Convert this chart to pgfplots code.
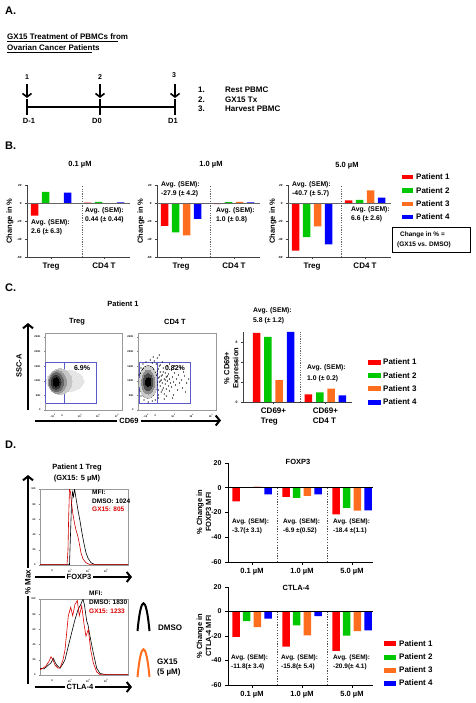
\documentclass[border=0pt]{standalone}
\usepackage{pgfplots}
\pgfplotsset{compat=1.18}
\usepackage{fontspec}
\setmainfont{Liberation Sans}
\usetikzlibrary{arrows.meta}
\definecolor{pr}{RGB}{255,0,0}
\definecolor{pg}{RGB}{0,200,0}
\definecolor{po}{RGB}{255,110,30}
\definecolor{pb}{RGB}{0,0,255}
\definecolor{gate}{RGB}{90,90,200}
\newcommand{\fs}[1]{\fontsize{#1}{#1}\selectfont\bfseries}
\pgfplotsset{
 barbase/.style={scale only axis, anchor=south west, axis x line*=bottom, axis y line*=left, clip=false,
   tick align=outside, major tick length=2pt, /pgf/number format/assume math mode=true},
 bb/.style={ybar, bar width=7.5pt, draw=none},
 bstyle/.style={barbase, width=103pt, height=72pt, xmin=-0.453, xmax=1.49, ymin=-60, ymax=20,
   ytick={-60,-40,-20,0,20}, xtick={0,1}, xticklabels={Treg,CD4 T},
   yticklabel style={font=\fs{3}}, xticklabel style={font=\fs{8}},
   axis line style={black!75, line width=0.5pt}, tick style={black!75, line width=0.4pt}},
 dstyle/.style={barbase, width=145pt, xmin=-0.48, xmax=2.42, ymin=-60, ymax=20,
   ytick={-60,-40,-20,0,20}, xtick={0,1,2}, xticklabels={0.1 µM,1.0 µM,5.0 µM},
   yticklabel style={font=\fs{7}}, xticklabel style={font=\fs{7.5}},
   axis line style={black, line width=0.8pt}, tick style={black, line width=0.8pt}, major tick length=3pt},
 flow/.style={scale only axis, anchor=south west, width=77pt, height=77pt, xmin=0, xmax=77, ymin=0, ymax=77,
   axis line style={black!40, line width=0.4pt}, tick style={black!50, line width=0.3pt},
   major tick length=1pt, tick align=outside, tick pos=left,
   ytick={0,14.6,29.2,43.8,58.4,73}, yticklabels={0,50K,100K,150K,200K,250K},
   xtick={8,17,35,53,72}, xticklabels={-10\textsuperscript{3},0,10\textsuperscript{3},10\textsuperscript{4},10\textsuperscript{5}},
   ticklabel style={font=\fs{2.5}}},
 blob/.style n args={4}{only marks, mark=*, mark size=10pt,
   mark options={draw=#1, fill=#1, xscale=#2, yscale=#3, line width=0pt}},
 hist/.style={scale only axis, anchor=south west, width=88pt, height=76pt, xmin=0, xmax=88, ymin=0, ymax=100,
   axis line style={black!40, line width=0.4pt}, tick style={black!50, line width=0.3pt},
   major tick length=1pt, tick align=outside, tick pos=left,
   ytick={0,20,40,60,80,100}, xtick={12,30,48,66,84},
   xticklabels={0,10\textsuperscript{3},10\textsuperscript{4},10\textsuperscript{5},},
   ticklabel style={font=\fs{2.5}}, /pgf/number format/assume math mode=true},
}
\begin{document}
\begin{tikzpicture}
\useasboundingbox (0pt,0pt) rectangle (475pt,-703pt);

% ---------------- Panel B ----------------
\begin{axis}[bstyle, at={(27pt,-257pt)}]
 \addplot[bb, bar shift=-16.5pt, fill=pr] coordinates {(0,-14) (1,0.3)};
 \addplot[bb, bar shift=-5.5pt, fill=pg] coordinates {(0,12.5) (1,1.2)};
 \addplot[bb, bar shift=5.5pt, fill=po] coordinates {(0,-0.8) (1,-0.6)};
 \addplot[bb, bar shift=16.5pt, fill=pb] coordinates {(0,11.5) (1,0.8)};
 \draw[black!60, line width=.5pt] (axis cs:-0.453,0) -- (axis cs:1.49,0);
 \draw[black!60, line width=.5pt, dash pattern=on 1.2pt off 1.2pt] (axis cs:0.585,-60) -- (axis cs:0.585,20);
\end{axis}
\begin{axis}[bstyle, at={(157pt,-257pt)}]
 \addplot[bb, bar shift=-16.5pt, fill=pr] coordinates {(0,-25.5) (1,-1.2)};
 \addplot[bb, bar shift=-5.5pt, fill=pg] coordinates {(0,-32.5) (1,1.0)};
 \addplot[bb, bar shift=5.5pt, fill=po] coordinates {(0,-36) (1,1.3)};
 \addplot[bb, bar shift=16.5pt, fill=pb] coordinates {(0,-17.5) (1,0.6)};
 \draw[black!60, line width=.5pt] (axis cs:-0.453,0) -- (axis cs:1.49,0);
 \draw[black!60, line width=.5pt, dash pattern=on 1.2pt off 1.2pt] (axis cs:0.547,-60) -- (axis cs:0.547,20);
\end{axis}
\begin{axis}[bstyle, at={(288pt,-257pt)}]
 \addplot[bb, bar shift=-16.5pt, fill=pr] coordinates {(0,-53) (1,3)};
 \addplot[bb, bar shift=-5.5pt, fill=pg] coordinates {(0,-38) (1,3.5)};
 \addplot[bb, bar shift=5.5pt, fill=po] coordinates {(0,-26) (1,14)};
 \addplot[bb, bar shift=16.5pt, fill=pb] coordinates {(0,-46) (1,6)};
 \draw[black!60, line width=.5pt] (axis cs:-0.453,0) -- (axis cs:1.49,0);
 \draw[black!60, line width=.5pt, dash pattern=on 1.2pt off 1.2pt] (axis cs:0.547,-60) -- (axis cs:0.547,20);
\end{axis}

% ---------------- Panel C flow ----------------
\begin{axis}[flow, at={(45pt,-410pt)}]
 \addplot[blob={black!10}{1.9}{1.1}{}] coordinates {(20,29)};
 \addplot[blob={black!22}{1.2}{1.3}{}] coordinates {(15,28.5)};
 \addplot[blob={black!40}{0.9}{1.15}{}] coordinates {(12.5,28)};
 \addplot[blob={black!60}{0.7}{0.95}{}] coordinates {(11.5,28)};
 \addplot[blob={black!80}{0.5}{0.7}{}] coordinates {(11,28)};
 \addplot[blob={black}{0.3}{0.42}{}] coordinates {(11,28)};
 \addplot[gate, line width=.5pt] coordinates {(0.5,7) (51,7) (51,48) (0.5,48) (0.5,7)};
 \addplot[gate, line width=.5pt] coordinates {(19,7) (19,48)};
\end{axis}
\begin{axis}[flow, width=78pt, at={(138pt,-410pt)}]
 \addplot[only marks, mark=*, mark size=0.35pt, mark options={fill=black, draw=none}]
   coordinates {(18,30) (19,25) (19,36) (20,20) (20,41) (21,28) (21,33) (22,24) (22,38) (23,30) (23,18)
   (24,35) (24,27) (25,22) (25,42) (26,31) (26,16) (27,26) (27,37) (28,33) (28,21) (29,29) (29,44)
   (30,24) (30,36) (31,19) (31,31) (32,27) (33,40) (33,23) (34,33) (35,28) (35,15) (36,37) (37,25)
   (38,31) (39,20) (40,35) (41,27) (42,42) (43,30) (44,22) (46,34) (48,27) (50,31) (14,47) (16,49)
   (12,50) (8,48) (5,46) (17,10) (14,9) (10,8) (6,10) (3,14) (2,20) (1,35) (3,42) (18,46) (20,12)
   (22,45) (24,48) (26,11) (28,14) (19,52) (15,53) (31,46) (34,12) (21,55) (36,44) (45,38) (47,18)
   (19,28) (20,32) (18,22) (19,39) (21,44) (20,15) (22,29) (23,34) (24,20) (25,38) (27,30) (29,34)};
 \addplot[blob={black!20}{0.85}{1.6}{}] coordinates {(10,28)};
 \addplot[blob={black!45}{0.65}{1.2}{}] coordinates {(10,28)};
 \addplot[blob={black!70}{0.45}{0.85}{}] coordinates {(10,28)};
 \addplot[blob={black}{0.28}{0.45}{}] coordinates {(10,28)};
 \addplot[smooth, black, line width=1.3pt] coordinates {(18.5,28) (17.9,34.1) (16,39.3) (13.3,42.8) (10,44)
   (6.7,42.8) (4,39.3) (2.1,34.1) (1.5,28) (2.1,21.9) (4,16.7) (6.7,13.2) (10,12) (13.3,13.2) (16,16.7)
   (17.9,21.9) (18.5,28)};
 \addplot[gate, line width=.5pt] coordinates {(1,7) (52,7) (52,48) (1,48) (1,7)};
 \addplot[gate, line width=.5pt] coordinates {(19,7) (19,48)};
\end{axis}

% ---------------- Panel C bars ----------------
\begin{axis}[barbase, at={(243pt,-402pt)}, width=109pt, height=70pt, xmin=-0.587, xmax=1.51, ymin=0, ymax=7,
   ytick={0,2,4,6}, xtick={0,1}, xticklabels={{CD69+\\Treg},{CD69+\\CD4 T}},
   xticklabel style={font=\fontsize{8}{10}\selectfont\bfseries, align=left},
   yticklabel style={font=\fs{3.5}},
   axis line style={black!75, line width=0.6pt}, tick style={black!75, line width=0.4pt}]
 \addplot[bb, bar shift=-17pt, fill=pr] coordinates {(0,6.9) (1,0.77)};
 \addplot[bb, bar shift=-5.65pt, fill=pg] coordinates {(0,6.5) (1,0.97)};
 \addplot[bb, bar shift=5.65pt, fill=po] coordinates {(0,2.2) (1,1.33)};
 \addplot[bb, bar shift=17pt, fill=pb] coordinates {(0,7.0) (1,0.67)};
 \draw[black!60, line width=.5pt, dash pattern=on 1.2pt off 1.2pt] (axis cs:0.51,0) -- (axis cs:0.51,7);
\end{axis}

% ---------------- Panel D histograms ----------------
\begin{axis}[hist, at={(40pt,-565pt)}]
 \addplot[black, line width=.6pt] coordinates {(0,0.5) (29.5,0.5) (30.5,40) (31.5,80) (32.5,96) (33.5,90)
   (34.5,100) (35.5,92) (36.5,84) (38,72) (40,58) (42,42) (44,28) (46,16) (48,9) (51,3) (55,0.5) (88,0.5)};
 \addplot[pr!80!black, line width=.6pt] coordinates {(0,0.5) (27,0.5) (28,20) (28.6,60) (29.5,100) (30.5,96)
   (31.5,82) (33,66) (34.5,55) (36,46) (38,37) (39.5,27) (41,16) (43,8) (46,3) (50,0.5) (88,0.5)};
\end{axis}
\begin{axis}[hist, at={(40pt,-675pt)}]
 \addplot[black, line width=.6pt] coordinates {(0,9) (4,8) (8.3,13) (11,16) (13.3,22) (15,17) (16.7,13) (20,9)
   (23,15) (25,20) (28.3,38) (31.7,56) (35,73) (38.3,87) (40.5,92) (41.7,96) (43,100) (44.5,92) (46.7,71)
   (48,66) (50,51) (53.3,29) (56.7,9) (60,2) (66,0.5) (88,0.5)};
 \addplot[pr!85!black, line width=.6pt] coordinates {(0,7) (3,9) (6,12) (9,18) (11,24) (13,20) (15,13) (18,9)
   (20,9) (23,20) (25,33) (27,60) (28.3,78) (30.7,89) (32.7,78) (35,93) (37.3,98) (39.3,78) (41.7,91)
   (44,67) (46,51) (48.3,60) (50.7,33) (53.3,16) (56.7,4) (60,0.5) (88,0.5)};
\end{axis}

% ---------------- Panel D bars ----------------
\begin{axis}[dstyle, at={(228pt,-562pt)}, height=99pt]
 \addplot[bb, bar shift=-16pt, fill=pr] coordinates {(0,-11) (1,-7.3) (2,-21.5)};
 \addplot[bb, bar shift=-5.3pt, fill=pg] coordinates {(0,0.5) (1,-8.2) (2,-16.3)};
 \addplot[bb, bar shift=5.3pt, fill=po] coordinates {(0,1) (1,-6.5) (2,-18.4)};
 \addplot[bb, bar shift=16pt, fill=pb] coordinates {(0,-5.3) (1,-5.4) (2,-18.2)};
 \draw[black, line width=.8pt] (axis cs:-0.48,0) -- (axis cs:2.42,0);
 \draw[black!70, line width=.6pt, dash pattern=on 1.2pt off 1.5pt] (axis cs:0.5,-60) -- (axis cs:0.5,0);
 \draw[black!70, line width=.6pt, dash pattern=on 1.2pt off 1.5pt] (axis cs:1.5,-60) -- (axis cs:1.5,0);
\end{axis}
\begin{axis}[dstyle, at={(228pt,-685pt)}, height=98pt]
 \addplot[bb, bar shift=-16pt, fill=pr] coordinates {(0,-20.8) (1,-28.7) (2,-32.2)};
 \addplot[bb, bar shift=-5.3pt, fill=pg] coordinates {(0,-7.8) (1,-11.4) (2,-19.7)};
 \addplot[bb, bar shift=5.3pt, fill=po] coordinates {(0,-12.7) (1,-19.5) (2,-16)};
 \addplot[bb, bar shift=16pt, fill=pb] coordinates {(0,-5.9) (1,-3.8) (2,-15.4)};
 \draw[black, line width=.8pt] (axis cs:-0.48,0) -- (axis cs:2.42,0);
 \draw[black!70, line width=.6pt, dash pattern=on 1.2pt off 1.5pt] (axis cs:0.5,-60) -- (axis cs:0.5,0);
 \draw[black!70, line width=.6pt, dash pattern=on 1.2pt off 1.5pt] (axis cs:1.5,-60) -- (axis cs:1.5,0);
\end{axis}

% ---------------- Annotations ----------------
\begin{scope}[x=1pt, y=-1pt, every node/.style={inner sep=0pt}]
 % Panel A
 \node[anchor=west, font=\fs{11}] at (5,11) {A.};
 \node[anchor=west, font=\fs{8}] at (7,37) {GX15 Treatment of PBMCs from};
 \node[anchor=west, font=\fs{8}] at (7,48) {Ovarian Cancer Patients};
 \draw[line width=.5pt] (7,41.5) -- (118,41.5);
 \draw[line width=.5pt] (7,52.5) -- (92,52.5);
 \draw[line width=2.5pt] (27,107) -- (175,107);
 \foreach \xx in {27,100,175} {
   \draw[line width=2.5pt] (\xx,99) -- (\xx,115);
   \draw[line width=1.6pt, -{Straight Barb[length=3.5pt,width=9pt]}] (\xx,84) -- (\xx,98);
 }
 \node[font=\fs{7}] at (27,77) {1};
 \node[font=\fs{7}] at (100,77) {2};
 \node[font=\fs{7}] at (174,75) {3};
 \node[font=\fs{7.5}] at (29,121) {D-1};
 \node[font=\fs{7.5}] at (97,121) {D0};
 \node[font=\fs{7.5}] at (173,121) {D1};
 \node[anchor=west, font=\fs{8}] at (198,90) {1.};
 \node[anchor=west, font=\fs{8}] at (198,99.5) {2.};
 \node[anchor=west, font=\fs{8}] at (198,108.5) {3.};
 \node[anchor=west, font=\fs{8}] at (225,90) {Rest PBMC};
 \node[anchor=west, font=\fs{8}] at (225,99.5) {GX15 Tx};
 \node[anchor=west, font=\fs{8}] at (225,108.5) {Harvest PBMC};

 % Panel B
 \node[anchor=west, font=\fs{11}] at (5,146) {B.};
 \node[font=\fs{7.5}] at (80,165) {0.1 µM};
 \node[font=\fs{7.5}] at (211,165) {1.0 µM};
 \node[font=\fs{7.5}] at (347,166) {5.0 µM};
 \node[rotate=90, font=\fs{7.5}] at (10,221) {Change in \%};
 \node[rotate=90, font=\fs{7.5}] at (141,221) {Change in \%};
 \node[rotate=90, font=\fs{7.5}] at (273,221) {Change in \%};
 \node[anchor=west, font=\fs{6.8}] at (31,223) {Avg. (SEM):};
 \node[anchor=west, font=\fs{6.8}] at (31,232) {2.6 (± 6.3)};
 \node[anchor=west, font=\fs{6.8}] at (85,211) {Avg. (SEM):};
 \node[anchor=west, font=\fs{6.8}] at (85,220) {0.44 (± 0.44)};
 \node[anchor=west, font=\fs{6.8}] at (161,185) {Avg. (SEM):};
 \node[anchor=west, font=\fs{6.8}] at (161,194) {-27.9 (± 4.2)};
 \node[anchor=west, font=\fs{6.8}] at (216,211) {Avg. (SEM):};
 \node[anchor=west, font=\fs{6.8}] at (216,220) {1.0 (± 0.8)};
 \node[anchor=west, font=\fs{6.8}] at (292,185) {Avg. (SEM):};
 \node[anchor=west, font=\fs{6.8}] at (292,194) {-40.7 (± 5.7)};
 \node[anchor=west, font=\fs{6.8}] at (351,210) {Avg. (SEM):};
 \node[anchor=west, font=\fs{6.8}] at (351,219) {6.6 (± 2.6)};
 \foreach \cc/\yy/\nn in {pr/177/1, pg/190.5/2, po/204/3, pb/217/4} {
   \fill[\cc] (402,\yy-2.3) rectangle (413,\yy+2.3);
   \node[anchor=west, font=\fs{8}] at (416,\yy) {Patient \nn};
 }
 \draw[line width=.6pt] (392,227) rectangle (470,252);
 \node[anchor=west, font=\fs{6.5}] at (400,235) {Change in \% =};
 \node[anchor=west, font=\fs{6.5}] at (397,244.5) {(GX15  vs. DMSO)};

 % Panel C
 \node[anchor=west, font=\fs{11}] at (5,288) {C.};
 \node[font=\fs{7.5}] at (123,304) {Patient 1};
 \node[font=\fs{7.5}] at (77,322) {Treg};
 \node[font=\fs{7.5}] at (175,322) {CD4 T};
 \draw[line width=2pt, -{Straight Barb[length=4pt,width=10pt]}] (28,410) -- (28,323);
 \node[rotate=90, font=\fs{7.5}] at (19,366) {SSC-A};
 \draw[line width=2pt, -{Straight Barb[length=4pt,width=10pt]}] (35,420.5) -- (221,420.5);
 \node[fill=white, inner sep=2pt, font=\fs{7.5}] at (129,421) {CD69};
 \node[font=\fs{7}] at (82,368) {6.9\%};
 \node[font=\fs{7}] at (175,368) {0.82\%};
 \node[rotate=90, align=center, font=\fontsize{7.5}{9}\selectfont\bfseries] at (232,368) {\% CD69+\\Expression};
 \node[anchor=west, font=\fs{6.8}] at (253,311) {Avg. (SEM):};
 \node[anchor=west, font=\fs{6.8}] at (253,321) {5.8 (± 1.2)};
 \node[anchor=west, font=\fs{6.8}] at (307,368) {Avg. (SEM):};
 \node[anchor=west, font=\fs{6.8}] at (307,379) {1.0 (± 0.2)};
 \foreach \cc/\yy/\nn in {pr/362/1, pg/375.5/2, po/388.5/3, pb/402/4} {
   \fill[\cc] (368,\yy-2.5) rectangle (381,\yy+2.5);
   \node[anchor=west, font=\fs{8}] at (383,\yy) {Patient \nn};
 }

 % Panel D
 \node[anchor=west, font=\fs{11}] at (5,445) {D.};
 \node[font=\fs{7.5}] at (77,468) {Patient 1 Treg};
 \node[font=\fs{7.5}] at (77,479) {(GX15: 5 µM)};
 \node[anchor=west, font=\fs{6.5}] at (92,492) {MFI:};
 \node[anchor=west, font=\fs{6.5}] at (92,501) {DMSO: 1024};
 \node[anchor=west, font=\fs{6.5}, text=pr!85!black] at (92,509.5) {GX15: 805};
 \node[anchor=west, font=\fs{6.5}] at (89,593) {MFI:};
 \node[anchor=west, font=\fs{6.5}] at (89,602) {DMSO: 1830};
 \node[anchor=west, font=\fs{6.5}, text=pr!85!black] at (89,611.5) {GX15: 1233};
 \draw[line width=2pt, -{Straight Barb[length=4pt,width=10pt]}] (28,684) -- (28,475);
 \node[rotate=90, fill=white, inner sep=2pt, font=\fs{8}] at (28,582) {\% Max};
 \draw[line width=2pt, -{Straight Barb[length=4pt,width=10pt]}] (35,577) -- (132,577);
 \node[fill=white, inner sep=1.5pt, font=\fs{7.5}] at (79,577) {FOXP3};
 \draw[line width=2pt, -{Straight Barb[length=4pt,width=10pt]}] (35,687) -- (132,687);
 \node[fill=white, inner sep=1.5pt, font=\fs{7.5}] at (80,687) {CTLA-4};
 \draw[line width=2pt, black] (137.5,631) .. controls (141,594) and (146,594) .. (149.5,631);
 \draw[line width=2pt, po] (137.5,677) .. controls (141,640) and (146,640) .. (149.5,677);
 \node[anchor=west, font=\fs{8}] at (158,628) {DMSO};
 \node[anchor=west, font=\fs{8}] at (157,662) {GX15};
 \node[anchor=west, font=\fs{8}] at (157,672) {(5 µM)};
 \node[rotate=90, align=center, font=\fontsize{7.5}{9}\selectfont\bfseries] at (204,512) {\% Change in\\FOXP3 MFI};
 \node[rotate=90, align=center, font=\fontsize{7.5}{9}\selectfont\bfseries] at (204,636) {\% Change in\\CTLA-4 MFI};
 \node[font=\fs{7.5}] at (298,462) {FOXP3};
 \node[font=\fs{7.5}] at (296,588) {CTLA-4};
 \node[anchor=west, font=\fs{6.5}] at (232,522) {Avg. (SEM):};
 \node[anchor=west, font=\fs{6.5}] at (232,531) {-3.7(± 3.1)};
 \node[anchor=west, font=\fs{6.5}] at (283,522) {Avg. (SEM):};
 \node[anchor=west, font=\fs{6.5}] at (283,531) {-6.9 ±(0.52)};
 \node[anchor=west, font=\fs{6.5}] at (333,522) {Avg. (SEM):};
 \node[anchor=west, font=\fs{6.5}] at (333,531) {-18.4 ±(1.1)};
 \node[anchor=west, font=\fs{6.5}] at (231,658) {Avg. (SEM):};
 \node[anchor=west, font=\fs{6.5}] at (231,667) {-11.8(± 3.4)};
 \node[anchor=west, font=\fs{6.5}] at (281,658) {Avg. (SEM):};
 \node[anchor=west, font=\fs{6.5}] at (281,667) {-15.8(± 5.4)};
 \node[anchor=west, font=\fs{6.5}] at (333,658) {Avg. (SEM):};
 \node[anchor=west, font=\fs{6.5}] at (333,667) {-20.9(± 4.1)};
 \foreach \cc/\yy/\nn in {pr/643.5/1, pg/657/2, po/670/3, pb/683/4} {
   \fill[\cc] (384,\yy-2.5) rectangle (396,\yy+2.5);
   \node[anchor=west, font=\fs{8}] at (399,\yy) {Patient \nn};
 }
\end{scope}
\end{tikzpicture}
\end{document}
